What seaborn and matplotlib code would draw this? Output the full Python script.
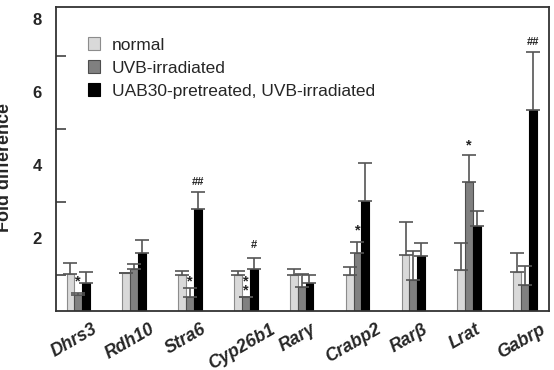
import numpy as np
import pandas as pd
import matplotlib
matplotlib.use("Agg")
import matplotlib.pyplot as plt
import matplotlib.transforms as mtransforms
import seaborn as sns

# data
genes = ['Dhrs3', 'Rdh10', 'Stra6', 'Cyp26b1', 'Rarγ', 'Crabp2', 'Rarβ', 'Lrat', 'Gabrp']
groups = ['normal', 'UVB-irradiated', 'UAB30-pretreated, UVB-irradiated']

normal = [1.03, 1.05, 0.99, 0.99, 1.00, 1.00, 1.54, 1.14, 1.08]
normal_top = [1.32, 1.05, 1.11, 1.10, 1.15, 1.20, 2.45, 1.88, 1.59]
uvb = [0.44, 1.16, 0.39, 0.39, 0.67, 1.60, 0.85, 3.54, 0.71]
uvb_top = [0.50, 1.29, 0.63, 0.40, 1.01, 1.90, 1.65, 4.27, 1.23]
uab = [0.76, 1.58, 2.81, 1.16, 0.77, 3.02, 1.51, 2.34, 5.51]
uab_top = [1.06, 1.96, 3.27, 1.45, 0.99, 4.05, 1.88, 2.75, 7.09]

# significance marks: (gene, group index, text, y)
marks = [('Dhrs3', 1, '*', 0.80), ('Stra6', 1, '*', 0.82), ('Stra6', 2, '##', 3.55),
         ('Cyp26b1', 1, '*', 0.81), ('Cyp26b1', 1, '*', 0.58), ('Cyp26b1', 2, '#', 1.80),
         ('Crabp2', 1, '*', 2.22), ('Lrat', 1, '*', 4.55), ('Gabrp', 2, '##', 7.38)]

df = pd.DataFrame({
    'gene': genes * 3,
    'group': [groups[0]] * 9 + [groups[1]] * 9 + [groups[2]] * 9,
    'value': normal + uvb + uab,
})
tops = [normal_top, uvb_top, uab_top]

sns.set_style('white')
plt.rcParams['font.family'] = ['Liberation Sans', 'DejaVu Sans']

fig = plt.figure(figsize=(5.54, 3.70), dpi=100)
ax = fig.add_axes([0.101, 0.159, 0.890, 0.821])

fills = ['#d9d9d9', '#808080', '#000000']
edges = ['#8c8c8c', '#4d4d4d', '#000000']
sns.barplot(data=df, x='gene', y='value', hue='group', hue_order=groups,
            palette=fills, width=0.42, errorbar=None, legend=False, ax=ax)

bars = list(ax.containers)
for k, cont in enumerate(bars):
    xs = [b.get_x() + b.get_width() / 2 for b in cont]
    hs = [b.get_height() for b in cont]
    for b in cont:
        b.set_edgecolor(edges[k])
        b.set_linewidth(0.8)
    err = np.array(tops[k]) - np.array(hs)
    ax.errorbar(xs, hs, yerr=[np.zeros(len(hs)), err], fmt='none',
                ecolor='#555555', elinewidth=1.2, capsize=5, capthick=1.2, zorder=1)

for gene, k, txt, y in marks:
    b = bars[k][genes.index(gene)]
    xc = b.get_x() + b.get_width() / 2
    fs = 8 if '#' in txt else 10.5
    ax.text(xc, y, txt, ha='center', va='center', fontsize=fs, fontweight='bold',
            color='#222222')

ax.set_xlim(-0.4, 8.43)
ax.set_ylim(0, 8.32)
ax.set_yticks([2, 4, 6, 8])
ax.set_yticks([1, 3, 5, 7], minor=True)
ax.tick_params(axis='y', which='major', direction='in', length=11, width=1.1,
               color='#333333', labelsize=12, pad=10)
ax.tick_params(axis='y', which='minor', direction='in', length=7, width=1.1,
               color='#333333', left=True)
ax.tick_params(axis='x', length=0, pad=7)
for lab in ax.get_yticklabels():
    lab.set_fontweight('bold')
ax.set_xticks(range(len(genes)))
ax.set_xticklabels(genes, rotation=30, ha='center',
                   fontsize=12.8, fontweight='bold', fontstyle='italic')
shift = mtransforms.ScaledTranslation(-4 / 100, 0, fig.dpi_scale_trans)
for lab in ax.get_xticklabels():
    lab.set_transform(lab.get_transform() + shift)
ax.set_xlabel('')
ax.set_ylabel('')
for s in ax.spines.values():
    s.set_color('#333333')
    s.set_linewidth(1.3)

handles = [plt.Rectangle((0, 0), 1, 1, facecolor=fills[i], edgecolor=edges[i], lw=0.8)
           for i in range(3)]
ax.legend(handles, groups, loc='upper left', bbox_to_anchor=(0.05, 0.925), frameon=False,
          fontsize=12.5, handlelength=0.7, handleheight=0.8, handletextpad=0.7,
          labelspacing=0.42, borderaxespad=0)

fig.text(-0.008, 0.546, 'Fold difference', rotation=90, ha='left', va='center',
         fontsize=13, fontweight='bold')

fig.savefig('out.png', dpi=100)
